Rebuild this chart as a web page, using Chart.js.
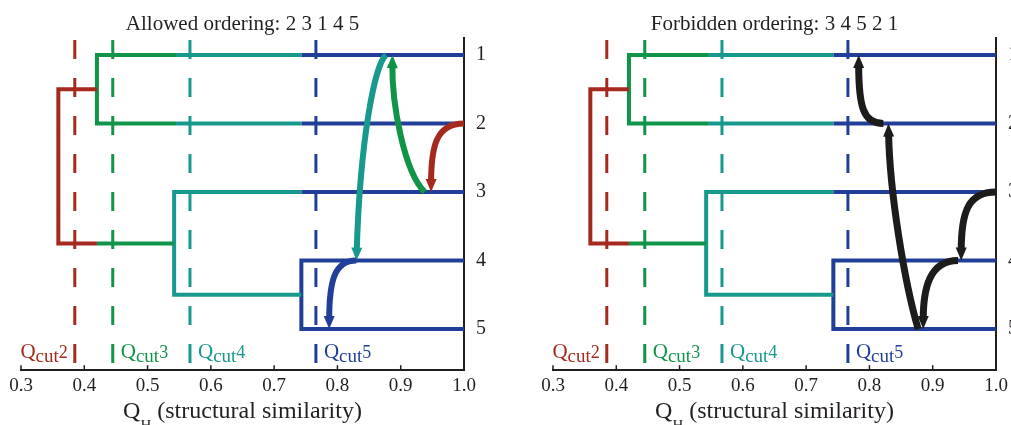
<!DOCTYPE html>
<html>
<head>
<meta charset="utf-8">
<script src="https://cdn.jsdelivr.net/npm/chart.js@4/dist/chart.umd.min.js"></script>
<style>
  html, body { margin: 0; padding: 0; background: #fff; overflow: hidden; }
  #wrap { position: relative; width: 1011px; height: 425px; overflow: hidden; }
  .panel { position: absolute; top: 0; width: 532px; height: 425px; }
</style>
</head>
<body>
<div id="wrap">
  <div class="panel" style="left:0"><canvas id="allowed" width="532" height="425"></canvas></div>
  <div class="panel" style="left:532px"><canvas id="forbidden" width="532" height="425"></canvas></div>
</div>
<script>
// цвета кластеров
const RED = '#a6291f'
const GREEN = '#109447'
const TEAL = '#17998d'
const BLUE = '#213f98'
const INK = '#231f20'

// оси
const xTicks = [0.3, 0.4, 0.5, 0.6, 0.7, 0.8, 0.9, 1.0]
const leafPos = [1, 2, 3, 4, 5]
const leafLabels = ['1', '2', '3', '4', '5']

// пороги Q_cut (вертикальные пунктиры)
const cutValues = [0.385, 0.445, 0.567, 0.766]
const cutNames = ['2', '3', '4', '5']
const cutColors = [RED, GREEN, TEAL, BLUE]
const cutSpan = [0.78, 5.6]

// дерево: ломаные в координатах (Q_H, номер листа)
const redLinks = [
    [[0.42, 1.5], [0.359, 1.5], [0.359, 3.75], [0.42, 3.75]]
]
const greenLinks = [
    [[0.545, 1], [0.42, 1], [0.42, 2], [0.545, 2]],
    [[0.42, 3.75], [0.542, 3.75]]
]
const tealLinks = [
    [[0.545, 1], [0.743, 1]],
    [[0.545, 2], [0.743, 2]],
    [[0.743, 3], [0.542, 3], [0.542, 4.5], [0.743, 4.5]]
]
const blueLinks = [
    [[0.743, 1], [1, 1]],
    [[0.743, 2], [1, 2]],
    [[0.743, 3], [1, 3]],
    [[1, 4], [0.743, 4], [0.743, 5], [1, 5]]
]

// стрелки: начало, две контрольные точки, конец (кривая Безье)
const allowedTitle = 'Allowed ordering: 2 3 1 4 5'
const allowedArrows = [
    [[1.0, 2.0], [0.955, 2.0], [0.948, 2.35], [0.948, 3.0]],
    [[0.938, 3.0], [0.905, 2.7], [0.886, 1.7], [0.887, 1.0]],
    [[0.877, 1.0], [0.86, 1.1], [0.836, 2.2], [0.83, 4.0]],
    [[0.83, 4.0], [0.795, 4.0], [0.787, 4.3], [0.787, 5.0]]
]
const allowedArrowColors = [RED, GREEN, TEAL, BLUE]

const forbiddenTitle = 'Forbidden ordering: 3 4 5 2 1'
const forbiddenArrows = [
    [[0.822, 2.0], [0.79, 2.0], [0.783, 1.75], [0.783, 1.0]],
    [[0.877, 5.0], [0.855, 4.3], [0.832, 3.0], [0.83, 2.0]],
    [[1.0, 3.0], [0.955, 3.0], [0.945, 3.3], [0.945, 4.0]],
    [[0.94, 4.0], [0.895, 4.0], [0.885, 4.4], [0.885, 5.0]]
]
const forbiddenArrowColors = ['#1c1c1c', '#1c1c1c', '#1c1c1c', '#1c1c1c']

const SERIF = '"Liberation Serif", "Times New Roman", serif'

function linkSets(links, color) {
    return links.map(l => ({
        data: l.map(p => ({x: p[0], y: p[1]})),
        borderColor: color,
        borderWidth: 4,
        borderJoinStyle: 'miter',
        showLine: true,
        pointRadius: 0,
        clip: false,
        order: 2
    }))
}

function cutSets() {
    return cutValues.map((q, i) => ({
        data: [{x: q, y: cutSpan[0]}, {x: q, y: cutSpan[1]}],
        borderColor: cutColors[i],
        borderWidth: 3,
        borderDash: [19, 19],
        showLine: true,
        pointRadius: 0,
        clip: false,
        order: 1
    }))
}

function drawArrow(ctx, xs, ys, pts, color, width) {
    const p = pts.map(([x, y]) => [xs.getPixelForValue(x), ys.getPixelForValue(y)])
    const [p0, p1, p2, p3] = p
    let dx = p3[0] - p2[0], dy = p3[1] - p2[1]
    const len = Math.hypot(dx, dy)
    dx /= len; dy /= len
    const head = 13, half = 5.5
    ctx.save()
    ctx.strokeStyle = color
    ctx.fillStyle = color
    ctx.lineWidth = width
    ctx.lineCap = 'butt'
    ctx.beginPath()
    ctx.moveTo(p0[0], p0[1])
    ctx.bezierCurveTo(p1[0], p1[1], p2[0], p2[1], p3[0] - dx * head * 0.7, p3[1] - dy * head * 0.7)
    ctx.stroke()
    ctx.beginPath()
    ctx.moveTo(p3[0], p3[1])
    ctx.lineTo(p3[0] - dx * head - dy * half, p3[1] - dy * head + dx * half)
    ctx.lineTo(p3[0] - dx * head + dy * half, p3[1] - dy * head - dx * half)
    ctx.closePath()
    ctx.fill()
    ctx.restore()
}

// всё, что Chart.js сам не умеет: заголовок, подписи Q_cut, стрелки, засечки
const extras = {
    id: 'extras',
    afterDatasetsDraw(chart, args, opts) {
        const {ctx, scales: {x, y}} = chart
        opts.arrows.forEach((a, i) => drawArrow(ctx, x, y, a, opts.colors[i], opts.width))
    },
    afterDraw(chart, args, opts) {
        const {ctx, chartArea, scales: {x}} = chart
        const cx = (chartArea.left + chartArea.right) / 2
        ctx.save()
        // заголовок
        ctx.fillStyle = INK
        ctx.font = '21px ' + SERIF
        ctx.textAlign = 'center'
        ctx.textBaseline = 'alphabetic'
        ctx.fillText(opts.title, cx, 30)

        // засечки внутрь
        ctx.strokeStyle = INK
        ctx.lineWidth = 1.5
        xTicks.forEach(v => {
            const px = x.getPixelForValue(v)
            ctx.beginPath()
            ctx.moveTo(px, chartArea.bottom)
            ctx.lineTo(px, chartArea.bottom - 5)
            ctx.stroke()
        })

        // подписи Q_cut
        ctx.textAlign = 'left'
        const base = chartArea.bottom - 12
        cutValues.forEach((q, i) => {
            const parts = [['Q', 21, 0], ['cut', 19, 4], [cutNames[i], 18, 0]]
            let w = 0
            parts.forEach(([t, s]) => { ctx.font = s + 'px ' + SERIF; w += ctx.measureText(t).width })
            const px = x.getPixelForValue(q)
            let sx = i === 0 ? px - 7 - w : px + 8
            ctx.fillStyle = cutColors[i]
            parts.forEach(([t, s, dy]) => {
                ctx.font = s + 'px ' + SERIF
                ctx.fillText(t, sx, base + dy)
                sx += ctx.measureText(t).width
            })
        })

        // подпись оси x
        ctx.fillStyle = INK
        const tparts = [['Q', 24, 0], ['H', 15, 12], [' (structural similarity)', 24, 0]]
        let tw = 0
        tparts.forEach(([t, s]) => { ctx.font = s + 'px ' + SERIF; tw += ctx.measureText(t).width })
        let tx = cx - tw / 2
        tparts.forEach(([t, s, dy]) => {
            ctx.font = s + 'px ' + SERIF
            ctx.fillText(t, tx, 418 + dy)
            tx += ctx.measureText(t).width
        })
        ctx.restore()
    }
}

function makeChart(id, title, arrows, colors, width) {
    const datasets = [
        ...cutSets(),
        ...linkSets(redLinks, RED),
        ...linkSets(greenLinks, GREEN),
        ...linkSets(tealLinks, TEAL),
        ...linkSets(blueLinks, BLUE)
    ]
    return new Chart(document.getElementById(id).getContext('2d'), {
        type: 'scatter',
        data: {datasets},
        options: {
            responsive: false,
            animation: false,
            events: [],
            layout: {padding: {left: 21, right: 34, top: 38, bottom: 24}},
            plugins: {
                legend: {display: false},
                tooltip: {enabled: false},
                extras: {title, arrows, colors, width}
            },
            scales: {
                x: {
                    type: 'linear', min: 0.3, max: 1.0,
                    afterBuildTicks: s => { s.ticks = xTicks.map(v => ({value: v})) },
                    ticks: {
                        callback: v => v.toFixed(1),
                        padding: 4, autoSkip: false, maxRotation: 0,
                        color: INK, font: {family: SERIF, size: 19}
                    },
                    grid: {display: false, drawTicks: false},
                    border: {display: true, color: INK, width: 2}
                },
                y: {
                    type: 'linear', position: 'right', reverse: true, min: 0.75, max: 5.6,
                    afterBuildTicks: s => { s.ticks = leafPos.map(v => ({value: v})) },
                    ticks: {
                        callback: v => leafLabels[leafPos.indexOf(v)] ?? '',
                        padding: 12, color: INK, font: {family: SERIF, size: 20}
                    },
                    grid: {display: false, drawTicks: false},
                    border: {display: true, color: INK, width: 2}
                }
            }
        },
        plugins: [extras]
    })
}

makeChart('allowed', allowedTitle, allowedArrows, allowedArrowColors, 6)
makeChart('forbidden', forbiddenTitle, forbiddenArrows, forbiddenArrowColors, 7)
</script>
</body>
</html>
